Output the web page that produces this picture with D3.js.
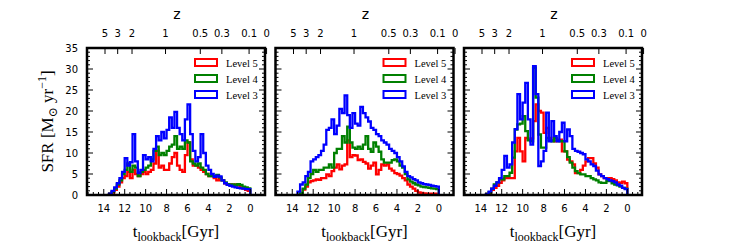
<!DOCTYPE html>
<html>
<head>
<meta charset="utf-8">
<script src="https://cdn.jsdelivr.net/npm/d3@7"></script>
<style>
body { margin: 0; background: #fff; }
svg { display: block; }
</style>
</head>
<body>
<div id="plot"></div>
<script>
// histogram bins: 0.25 Gyr wide, from 13.5 Gyr lookback down to 0
var binStart = 13.5, binWidth = 0.25;

var levelNames = ['Level 5', 'Level 4', 'Level 3'];
var levelColors = ['#ff0000', '#008000', '#0000ff'];

// panel 1
var sfr1Level5 = [0.2,0.6,1.2,2.0,3.0,4.0,4.5,5.5,4.0,6.0,5.0,4.5,5.0,5.5,5.0,5.5,6.0,7.5,10.5,6.5,7.0,6.0,6.0,7.5,9.0,10.0,7.0,6.0,5.5,9.5,12.5,8.5,7.0,7.0,6.5,6.0,5.5,5.0,4.5,4.5,4.0,3.5,4.0,3.5,2.8,2.5,2.5,2.2,2.5,2.3,1.8,1.5,1.2,1.0];
var sfr1Level4 = [0.2,0.8,1.5,2.5,3.5,5.0,6.0,7.5,5.5,7.0,6.5,4.5,5.5,6.0,6.5,7.0,8.5,10.5,11.5,9.5,10.0,9.5,10.5,11.5,12.0,14.0,11.0,11.5,11.0,13.0,12.5,8.0,7.5,7.0,7.5,6.5,6.0,5.0,4.5,4.5,4.5,4.8,4.2,3.5,3.0,2.6,2.4,2.5,2.3,2.6,2.4,2.0,1.8,1.6];
var sfr1Level3 = [0.3,1.0,1.8,2.8,4.0,5.5,8.8,7.0,7.8,14.5,8.0,5.2,6.0,9.5,8.5,9.0,8.0,11.0,14.0,13.0,15.0,13.5,15.5,18.5,16.0,19.8,16.0,14.5,13.0,18.0,21.6,14.5,10.5,8.0,9.0,14.5,10.0,7.0,6.0,5.0,4.3,4.6,4.4,3.5,2.8,2.4,2.2,2.0,1.8,1.7,1.6,1.5,1.4,1.4];

// panel 2
var sfr2Level5 = [0,0.5,1.3,2.0,3.0,3.3,3.5,3.7,3.6,4.0,4.0,4.9,4.5,5.7,6.5,7.3,6.1,7.0,7.3,13.0,9.0,9.5,9.4,8.3,8.5,7.9,7.5,6.3,7.0,7.7,4.9,6.0,7.3,7.0,7.3,6.3,5.8,5.2,5.0,4.6,4.0,3.5,2.5,2.0,1.5,1.0,0.6,0.5,0.4,0.3,0.3,0.3,0.3,0.3];
var sfr2Level4 = [0,0.5,1.5,2.5,4.0,5.0,6.0,5.5,6.0,6.0,6.5,6.5,7.3,6.5,10.0,11.0,11.0,14.0,12.5,16.3,12.5,11.3,11.0,11.5,11.0,12.0,14.0,11.0,10.3,12.5,11.5,10.3,8.5,7.7,7.7,7.7,8.3,8.5,8.0,7.0,6.5,5.0,3.7,3.2,2.8,2.5,2.3,2.0,1.9,1.8,1.7,1.6,1.5,1.4];
var sfr2Level3 = [0.8,2.5,3.0,4.5,5.5,8.0,8.5,9.0,9.5,10.5,12.0,15.5,16.0,18.0,14.5,16.5,20.5,19.5,23.7,19.0,16.0,19.5,17.0,16.5,21.0,19.5,18.5,17.5,16.0,15.5,14.5,14.0,13.0,12.5,12.0,11.0,10.5,10.0,9.0,8.0,6.8,5.5,4.5,4.2,3.8,3.5,3.0,2.8,2.6,2.5,2.4,2.2,2.1,2.0];

// panel 3
var sfr3Level5 = [0.1,0.5,1.2,1.7,2.2,2.9,3.5,4.0,4.0,4.0,4.0,10.4,13.6,10.4,8.0,13.6,13.2,13.5,17.6,21.6,20.0,19.6,14.8,16.0,13.6,13.0,12.8,13.2,13.2,10.4,10.4,8.4,8.0,7.3,5.2,5.2,6.0,7.0,8.0,8.8,8.8,7.5,6.5,4.9,4.5,4.0,4.0,4.0,3.8,3.5,3.0,2.9,3.2,2.8];
var sfr3Level4 = [0.1,0.6,1.5,2.5,3.0,3.7,3.7,4.5,4.5,5.3,8.9,15.6,16.8,17.0,18.8,15.2,13.0,12.8,30.3,23.2,14.4,11.3,11.3,13.6,13.0,12.8,13.6,13.0,12.8,12.8,10.4,9.0,7.7,6.5,5.7,5.2,4.9,4.9,4.5,4.5,4.0,3.7,3.5,3.0,2.9,2.9,3.3,3.3,2.8,2.5,2.3,2.0,1.7,1.5];
var sfr3Level3 = [0.2,0.8,1.5,2.2,3.0,4.0,6.0,9.3,6.5,7.3,12.5,15.7,24.0,18.0,22.0,26.7,18.0,12.0,30.7,24.0,6.9,8.0,10.5,19.6,12.8,17.6,14.0,12.8,15.0,17.2,12.8,15.6,14.0,11.0,10.5,10.3,10.0,9.7,8.5,8.0,7.3,6.9,5.8,4.9,4.5,4.0,3.8,3.5,3.3,3.0,2.5,2.2,1.7,1.4];

// tick labels
var bottomTicks = [14, 12, 10, 8, 6, 4, 2, 0];
var leftTicks = [0, 5, 10, 15, 20, 25, 30, 35];
var zLabels = ['5', '3', '2', '1', '0.5', '0.3', '0.1', '0'];
var zAtLookback = [13.88, 12.67, 11.3, 8.1, 4.78, 2.72, 0.12, -1.55];

var panels = [
  [sfr1Level5, sfr1Level4, sfr1Level3],
  [sfr2Level5, sfr2Level4, sfr2Level3],
  [sfr3Level5, sfr3Level4, sfr3Level3]
];

var W = 732, H = 244;
var panelLeft = [87, 275.5, 464];
var panelTop = 48, pw = 178, ph = 147;
var serif = '"Liberation Serif", "DejaVu Serif", serif';
var sans = '"DejaVu Sans", sans-serif';

var svg = d3.select('#plot').append('svg')
  .attr('width', W).attr('height', H);

var x = d3.scaleLinear().domain([15.6, -1.4]).range([0, pw]);
var y = d3.scaleLinear().domain([0, 35]).range([ph, 0]);

var stepLine = d3.line()
  .x(function(d) { return x(d[0]); })
  .y(function(d) { return y(d[1]); })
  .curve(d3.curveStepAfter);

svg.append('defs').append('clipPath').attr('id', 'clip')
  .append('rect').attr('width', pw).attr('height', ph);

panels.forEach(function(series, p) {
  var g = svg.append('g')
    .attr('transform', 'translate(' + panelLeft[p] + ',' + panelTop + ')');

  // histogram outlines, Level 5 first so Level 3 lies on top
  var dataG = g.append('g').attr('clip-path', 'url(#clip)');
  series.forEach(function(vals, k) {
    var pts = [[binStart, 0]];
    vals.forEach(function(v, i) { pts.push([binStart - i * binWidth, v]); });
    pts.push([binStart - vals.length * binWidth, 0]);
    dataG.append('path')
      .attr('d', stepLine(pts))
      .style('fill', 'none')
      .style('stroke', levelColors[k])
      .style('stroke-width', '2.3px')
      .style('stroke-linejoin', 'miter');
  });

  // ticks, all pointing inward
  var tickG = g.append('g').style('stroke', '#000').style('stroke-width', '1px');
  d3.range(-1, 15.6, 0.5).forEach(function(t) {
    var major = (t % 2 === 0) && t >= 0;
    var len = major ? 6 : 3;
    tickG.append('line')
      .attr('x1', x(t)).attr('x2', x(t))
      .attr('y1', ph).attr('y2', ph - len);
  });
  d3.range(0, 36, 1).forEach(function(v) {
    var len = (v % 5 === 0) ? 6 : 3;
    tickG.append('line')
      .attr('x1', 0).attr('x2', len)
      .attr('y1', y(v)).attr('y2', y(v));
    tickG.append('line')
      .attr('x1', pw).attr('x2', pw - len)
      .attr('y1', y(v)).attr('y2', y(v));
  });
  zAtLookback.forEach(function(t) {
    tickG.append('line')
      .attr('x1', x(t)).attr('x2', x(t))
      .attr('y1', 0).attr('y2', 6);
  });

  // frame
  g.append('rect')
    .attr('width', pw).attr('height', ph)
    .style('fill', 'none')
    .style('stroke', '#000')
    .style('stroke-width', '2.5px');

  // bottom tick labels
  bottomTicks.forEach(function(t) {
    g.append('text')
      .attr('x', x(t)).attr('y', ph + 17)
      .attr('text-anchor', 'middle')
      .style('font-family', sans).style('font-size', '10px')
      .text(t);
  });

  // top (redshift) tick labels
  zLabels.forEach(function(lab, i) {
    g.append('text')
      .attr('x', x(zAtLookback[i])).attr('y', -11)
      .attr('text-anchor', 'middle')
      .style('font-family', sans).style('font-size', '10px')
      .text(lab);
  });
  g.append('text')
    .attr('x', pw / 2 + 1).attr('y', -29)
    .attr('text-anchor', 'middle')
    .style('font-family', sans).style('font-size', '14px')
    .text('z');

  // left tick labels only on the first panel
  if (p === 0) {
    leftTicks.forEach(function(v) {
      g.append('text')
        .attr('x', -9).attr('y', y(v) + 3.5)
        .attr('text-anchor', 'end')
        .style('font-family', sans).style('font-size', '10px')
        .text(v);
    });
  }

  // x axis title
  var xt = g.append('text')
    .attr('x', pw / 2).attr('y', ph + 42)
    .attr('text-anchor', 'middle')
    .style('font-family', serif).style('font-size', '17px');
  xt.append('tspan').text('t');
  xt.append('tspan').attr('dy', 4).style('font-size', '12px').text('lookback');
  xt.append('tspan').attr('dy', -4).text('[Gyr]');

  // legend
  var lg = g.append('g').attr('transform', 'translate(108,11)');
  [0, 1, 2].forEach(function(k) {
    lg.append('rect')
      .attr('x', 0).attr('y', k * 16)
      .attr('width', 22).attr('height', 7)
      .style('fill', 'none')
      .style('stroke', levelColors[k])
      .style('stroke-width', '2px');
    lg.append('text')
      .attr('x', 31).attr('y', k * 16 + 7.5)
      .style('font-family', serif).style('font-size', '10.5px')
      .text(levelNames[k]);
  });
});

// y axis title
var yt = svg.append('text')
  .attr('transform', 'translate(53,' + (panelTop + ph / 2) + ') rotate(-90)')
  .attr('text-anchor', 'middle')
  .style('font-family', serif).style('font-size', '17px');
yt.append('tspan').text('SFR [M');
yt.append('tspan').attr('dy', 4).style('font-size', '12px').text('\u2299');
yt.append('tspan').attr('dy', -4).text(' yr');
yt.append('tspan').attr('dy', -7).style('font-size', '12px').text('\u22121');
yt.append('tspan').attr('dy', 7).text(']');
</script>
</body>
</html>
